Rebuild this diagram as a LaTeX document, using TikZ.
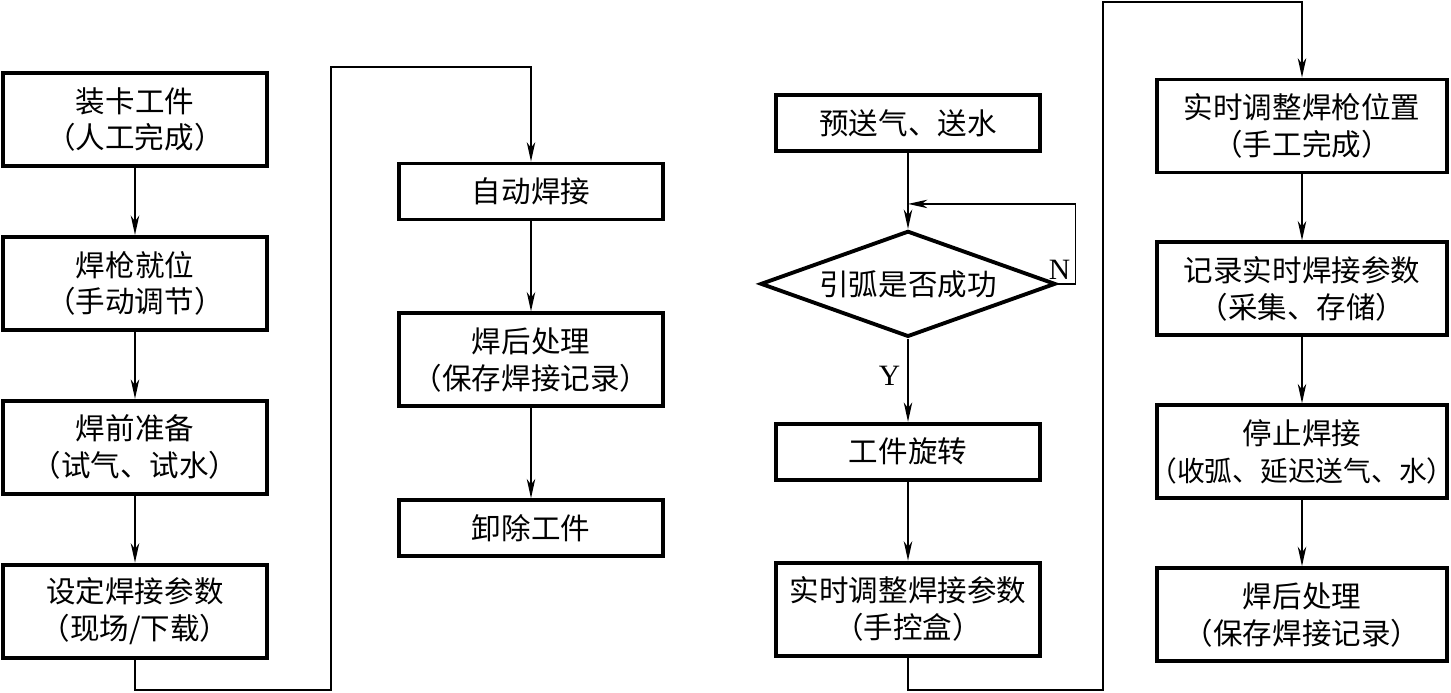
\documentclass[tikz,border=0pt]{standalone}
\usepackage{fontspec}
\setmainfont{Liberation Serif}
\newfontfamily\cjk{Noto Sans CJK SC}
\usetikzlibrary{shapes.geometric, arrows.meta, positioning}

\begin{document}
\begin{tikzpicture}[node distance=0.67cm]
      \tikzset{
  box/.style={
    rectangle, draw, line width=1.1pt, align=center,
    minimum width=2.64cm, minimum height=0.93cm, inner sep=1pt,
    font={\cjk\fontsize{8.4pt}{10.5pt}\selectfont}
  },
  onebox/.style={box, minimum height=0.56cm},
  widebox/.style={box, minimum width=2.90cm},
  decision/.style={
    diamond, draw, line width=1.1pt, aspect=2.8, inner sep=0pt,
    minimum width=2.95cm, minimum height=1.06cm,
    font={\cjk\fontsize{8.4pt}{10.5pt}\selectfont}
  },
  arrow/.style={-{Stealth[length=5.5pt, width=2.4pt, inset=1.6pt]}, line width=0.5pt},
  lbl/.style={font=\fontsize{8.4pt}{10pt}\selectfont, inner sep=1pt},
}
\useasboundingbox (0,0) rectangle (14.51,-6.93);

%% ---- PREPARATION ----
\node[box] at (1.35,-1.195) (load) {装卡工件\\（人工完成）};
\node[box, below=of load]   (gun)  {焊枪就位\\（手动调节）};
\node[box, below=of gun]    (prep) {焊前准备\\（试气、试水）};
\node[box, below=of prep]   (set)  {设定焊接参数\\（现场/下载）};

\draw[arrow] (load) -- (gun);
\draw[arrow] (gun)  -- (prep);
\draw[arrow] (prep) -- (set);

%% ---- AUTOMATIC ----
\node[onebox] at (5.31,-1.915)       (weld)   {自动焊接};
\node[box, below=0.90cm of weld]     (post)   {焊后处理\\（保存焊接记录）};
\node[onebox, below=0.90cm of post]  (unload) {卸除工件};

\draw[arrow] (weld) -- (post);
\draw[arrow] (post) -- (unload);

%% set -> weld: under, up and over
\coordinate (lowA)  at (3.31,-6.90);
\coordinate (highA) at (3.31,-0.67);
\draw[arrow] (set.south) -- (set.south |- lowA) -- (lowA)
  -- (highA) -- (highA -| weld.north) -- (weld.north);

%% ---- MANUAL ----
\node[onebox] at (9.08,-1.23)          (pre)   {预送气、送水};
\node[decision, below=0.76cm of pre]   (judge) {引弧是否成功};
\node[onebox, below=0.83cm of judge]   (rot)   {工件旋转};
\node[box, below=0.79cm of rot]        (real)  {实时调整焊接参数\\（手控盒）};

\draw[arrow] (pre)   -- (judge);
\draw[arrow] (judge) -- node[lbl, left=1pt, pos=0.45] (ylbl) {Y} (rot);
\draw[arrow] (rot)   -- (real);

%% retry loop on N
\coordinate (merge) at ([yshift=-0.51cm]pre.south);
\coordinate (loopc) at ([xshift=0.18cm]judge.east);
\draw[arrow] (judge.east) -- (loopc) |- (merge);
\node[lbl, anchor=south] at ([xshift=0.02cm]judge.east) (nlbl) {N};

%% ---- DURING / AFTER ----
\node[widebox] at (13.02,-1.26)    (adjust) {实时调整焊枪位置\\（手工完成）};
\node[widebox, below=0.66cm of adjust] (record) {记录实时焊接参数\\（采集、存储）};
\node[widebox, below=0.66cm of record] (stop)   {停止焊接\\\makebox[2.7cm]{\fontsize{7.9pt}{10.5pt}\selectfont（收弧、延迟送气、水）}};
\node[widebox, below=0.66cm of stop]   (save)   {焊后处理\\（保存焊接记录）};

\draw[arrow] (adjust) -- (record);
\draw[arrow] (record) -- (stop);
\draw[arrow] (stop)   -- (save);

%% real -> adjust: under, up and over
\coordinate (lowB)  at (11.03,-6.90);
\coordinate (highB) at (11.03,-0.02);
\draw[arrow] (real.south) -- (real.south |- lowB) -- (lowB)
  -- (highB) -- (highB -| adjust.north) -- (adjust.north);

    \end{tikzpicture}
\end{document}
